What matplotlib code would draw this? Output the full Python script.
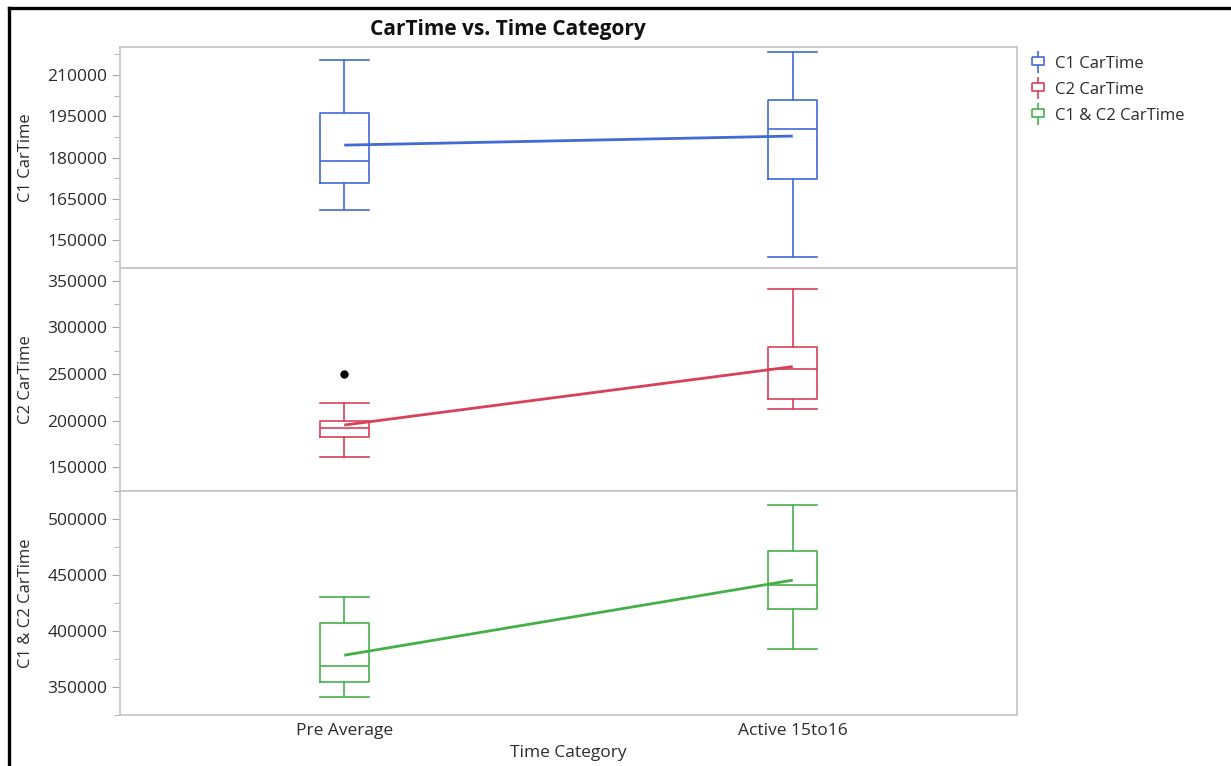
import numpy as np
import matplotlib.pyplot as plt
from matplotlib.lines import Line2D
from matplotlib.path import Path
from matplotlib.ticker import MultipleLocator

# data
categories = ['Pre Average', 'Active 15to16']
series = ['C1 CarTime', 'C2 CarTime', 'C1 & C2 CarTime']

c1_whislo = [161000, 143700]
c1_q1 = [170700, 172200]
c1_med = [178800, 190400]
c1_q3 = [196300, 200900]
c1_whishi = [215500, 218500]
c1_mean = [184500, 187800]
c1_fliers = [[], []]

c2_whislo = [161500, 212300]
c2_q1 = [182900, 223000]
c2_med = [191800, 255100]
c2_q3 = [199600, 279300]
c2_whishi = [219300, 340800]
c2_mean = [195300, 257900]
c2_fliers = [[250000], []]

c12_whislo = [341000, 383900]
c12_q1 = [353900, 419500]
c12_med = [368600, 441000]
c12_q3 = [407500, 471800]
c12_whishi = [430000, 512800]
c12_mean = [378200, 445500]
c12_fliers = [[], []]

colors = ['#4169d8', '#d9405a', '#45b04a']
ylims = [(139800, 220200), (124600, 363600), (324600, 525400)]
majors = [15000, 50000, 50000]
minors = [7500, 25000, 25000]

plt.rcParams['font.family'] = ['Open Sans', 'DejaVu Sans']
W, H = 1231, 766
fig = plt.figure(figsize=(W / 100, H / 100), dpi=100)

left, right = 120, 1017
edges = [47, 268, 491, 715]
grey = '#c4c4c4'
txt = '#2b2b2b'

all_stats = [
    (c1_whislo, c1_q1, c1_med, c1_q3, c1_whishi, c1_mean, c1_fliers),
    (c2_whislo, c2_q1, c2_med, c2_q3, c2_whishi, c2_mean, c2_fliers),
    (c12_whislo, c12_q1, c12_med, c12_q3, c12_whishi, c12_mean, c12_fliers),
]

axes = []
for i in range(3):
    top, bot = edges[i], edges[i + 1]
    ax = fig.add_axes([left / W, 1 - bot / H, (right - left) / W, (bot - top) / H])
    lo, q1, med, q3, hi, mean, fl = all_stats[i]
    stats = []
    for j in range(2):
        stats.append(dict(whislo=lo[j], q1=q1[j], med=med[j], q3=q3[j],
                          whishi=hi[j], fliers=fl[j]))
    c = colors[i]
    lp = dict(color=c, linewidth=1.2)
    ax.bxp(stats, positions=[0, 1], widths=0.11, capwidths=0.11,
           boxprops=lp, whiskerprops=lp, capprops=lp, medianprops=lp,
           flierprops=dict(marker='o', markerfacecolor='black',
                           markeredgecolor='black', markersize=5))
    ax.plot([0, 1], mean, color=c, linewidth=2.0, solid_capstyle='butt')
    ax.set_xlim(-0.5, 1.5)
    ax.set_ylim(*ylims[i])
    ax.yaxis.set_major_locator(MultipleLocator(majors[i]))
    ax.yaxis.set_minor_locator(MultipleLocator(minors[i]))
    ax.yaxis.set_major_formatter(plt.FuncFormatter(lambda v, p: '%d' % v))
    for s in ax.spines.values():
        s.set_color(grey)
        s.set_linewidth(1.2)
    ax.tick_params(axis='y', which='major', length=6, color='#a8a8a8',
                   labelsize=12.5, labelcolor=txt, pad=3)
    ax.tick_params(axis='y', which='minor', length=4, color='#a8a8a8')
    ax.set_ylabel(series[i], fontsize=12, color=txt)
    ax.yaxis.label.set_va('center')
    ax.yaxis.set_label_coords((26 - left) / (right - left), 0.5)
    ax.set_xticks([0, 1])
    if i < 2:
        ax.tick_params(axis='x', length=0, labelbottom=False)
    else:
        ax.set_xticklabels(categories)
        ax.tick_params(axis='x', length=0, labelsize=12.5, labelcolor=txt, pad=6)
        ax.set_xlabel('Time Category', fontsize=12.5, color=txt, labelpad=4)
    axes.append(ax)

fig.text(508 / W, 1 - 29 / H, 'CarTime vs. Time Category', ha='center', va='center',
         fontsize=15, fontweight='bold', color='#111111')

# legend glyph: a tiny box plot
glyph = Path([(0, 1), (0, 0.45), (-0.5, 0.45), (0.5, 0.45), (0.5, -0.25), (-0.5, -0.25),
              (-0.5, 0.45), (0, -0.25), (0, -1)],
             [Path.MOVETO, Path.LINETO, Path.MOVETO, Path.LINETO, Path.LINETO, Path.LINETO,
              Path.LINETO, Path.MOVETO, Path.LINETO])
handles = [Line2D([], [], color=c, marker=glyph, linestyle='none', markersize=16,
                  markerfacecolor='none', markeredgewidth=1.2) for c in colors]
fig.legend(handles, series, loc='upper left', bbox_to_anchor=(1030 / W, 1 - 56 / H),
           frameon=False, fontsize=12, handlelength=1.0, handletextpad=0.5,
           labelspacing=0.6, labelcolor=txt, borderaxespad=0, borderpad=0)

# screenshot border
fig.add_artist(Line2D([9 / W, 1], [1 - 8 / H, 1 - 8 / H], color='black', linewidth=2.4))
fig.add_artist(Line2D([9 / W, 9 / W], [0, 1 - 8 / H], color='black', linewidth=2.4))

fig.savefig('out.png', dpi=100)
